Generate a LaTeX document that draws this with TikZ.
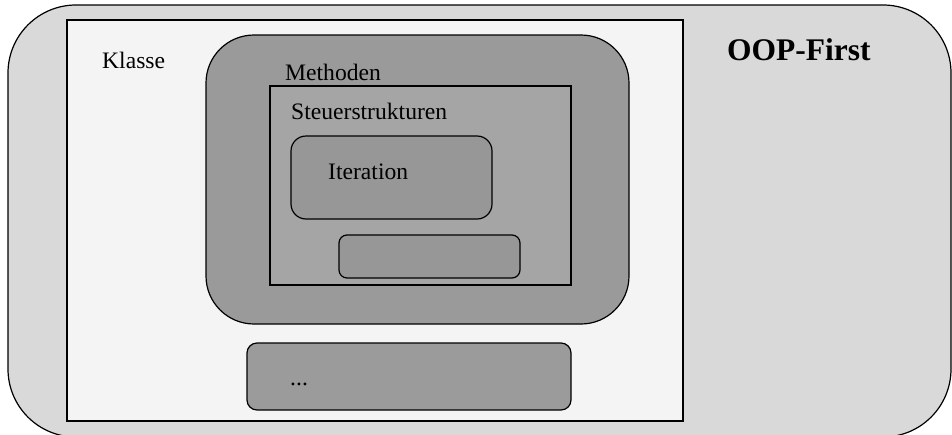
\documentclass[tikz,border=0pt]{standalone}
\usepackage{fontspec}
\setmainfont{Liberation Serif}
\begin{document}
\begin{tikzpicture}[x=1pt,y=-1pt,
  frame/.style={draw=black, line width=1.2pt, inner sep=0pt, outer sep=0pt},
  label/.style={anchor=west, inner sep=0pt, font=\fontsize{23.6}{28}\selectfont},
  title/.style={anchor=west, inner sep=0pt, font=\fontsize{31.5}{36}\selectfont\bfseries}]
  \useasboundingbox (0,0) rectangle (952,434);
  \begin{scope}
    \clip (0,0) rectangle (952,434);
    % outer rounded panel
    \node[frame, fill={rgb,255:red,217;green,217;blue,217}, rounded corners=68pt,
      minimum width=943, minimum height=432] (outer) at (479.5,221) {};
  \end{scope}
  % class rectangle
  \node[frame, line width=1.6pt, fill={rgb,255:red,244;green,244;blue,244},
    minimum width=616, minimum height=401] (klasse) at (375,220.5) {};
  % methods
  \node[frame, fill={rgb,255:red,154;green,154;blue,154}, rounded corners=48pt,
    minimum width=423, minimum height=289] (methoden) at (417.5,179.5) {};
  % control structures
  \node[frame, fill={rgb,255:red,165;green,165;blue,165},
    minimum width=301, minimum height=199] (steuer) at (420.5,185.5) {};
  % iteration
  \node[frame, fill={rgb,255:red,151;green,151;blue,151}, rounded corners=15pt,
    minimum width=201, minimum height=83] (iteration) at (391.5,177.5) {};
  % empty box
  \node[frame, fill={rgb,255:red,151;green,151;blue,151}, rounded corners=8pt,
    minimum width=181, minimum height=43] (leer) at (429.5,256.5) {};
  % further members
  \node[frame, fill={rgb,255:red,155;green,155;blue,155}, rounded corners=10pt,
    minimum width=324, minimum height=67] (weitere) at (409,376.5) {};

  \node[label] (tklasse) at (102,60) {Klasse};
  \node[label] (tmethoden) at (285,72) {Methoden};
  \node[label] (tsteuer) at (291,111) {Steuerstrukturen};
  \node[label] (titer) at (328,172) {Iteration};
  \node[label] (tdots) at (290,384) {...};
  \node[title] (ttitle) at (727,50) {OOP-First};
\end{tikzpicture}
\end{document}
